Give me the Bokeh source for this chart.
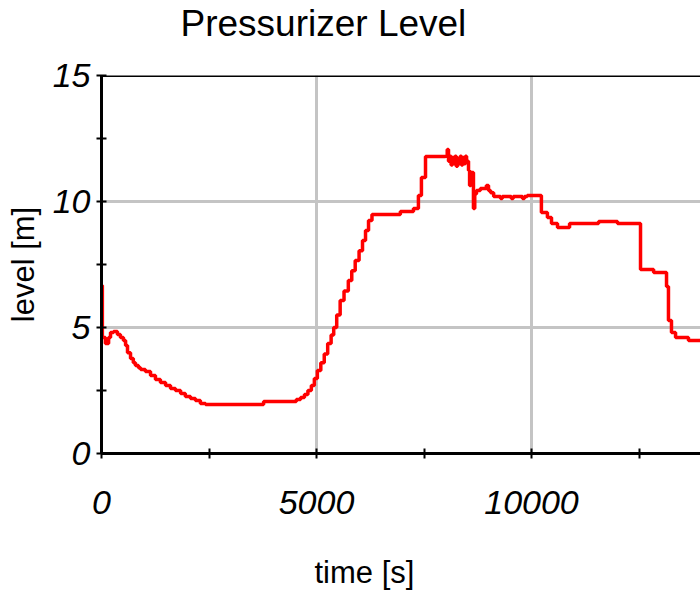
from bokeh.plotting import figure
from bokeh.models import FixedTicker, Span, Range1d, Title
from bokeh.embed import file_html
from bokeh.resources import INLINE

# Pressurizer level history (time in s, level in m), sampled as a staircase
time_s = [
    0, 20, 90, 165, 210, 280, 370, 440, 510, 560, 605, 675, 740, 790, 860, 910,
    1020, 1140, 1255, 1370, 1490, 1605, 1720, 1840, 1950, 2070, 2185, 2300, 2420,
    3770, 4530, 4630, 4720, 4800, 4880, 4950, 5020, 5100, 5180, 5260, 5340, 5400,
    5470, 5550, 5640, 5740, 5820, 5900, 5990, 6070, 6140, 6210, 6290, 6950, 7255,
    7370, 7440, 7535, 8000, 8040, 8070, 8100, 8130, 8160, 8190, 8220, 8250, 8280,
    8310, 8340, 8370, 8400, 8430, 8460, 8490, 8535, 8560, 8590, 8650, 8680, 8720,
    8810, 8950, 9000, 9050, 9120, 9280, 9320, 9530, 9575, 9790, 9835, 9900, 10230,
    10370, 10465, 10605, 10885, 11560, 12000, 12535, 12840, 13140, 13185, 13255,
    13350, 13650, 13930,
]
level_m = [
    6.67, 4.60, 4.37, 4.60, 4.80, 4.84, 4.72, 4.60, 4.48, 4.29, 4.00, 3.77, 3.60,
    3.49, 3.40, 3.33, 3.25, 3.10, 2.94, 2.82, 2.70, 2.58, 2.50, 2.38, 2.26, 2.18,
    2.10, 1.98, 1.94, 2.06, 2.14, 2.22, 2.34, 2.50, 2.70, 2.98, 3.29, 3.60, 3.95,
    4.37, 4.70, 5.00, 5.50, 6.07, 6.45, 6.87, 7.25, 7.66, 8.05, 8.45, 8.85, 9.25,
    9.48, 9.60, 9.72, 10.24, 10.95, 11.79, 11.80, 12.06, 11.60, 11.80, 11.45,
    11.75, 11.50, 11.80, 11.40, 11.70, 11.50, 11.80, 11.45, 11.75, 11.50, 11.80,
    11.60, 11.23, 10.63, 11.15, 9.72, 10.30, 10.44, 10.52, 10.63, 10.44, 10.35,
    10.20, 10.12, 10.20, 10.12, 10.20, 10.12, 10.20, 10.24, 9.56, 9.37, 9.13,
    8.97, 9.13, 9.21, 9.13, 7.30, 7.18, 6.63, 5.28, 4.80, 4.60, 4.48, 4.48,
]

x_major = [0, 5000, 10000]
x_minor = [2500, 7500, 12500]
y_major = [0, 5, 10, 15]
y_minor = [2.5, 7.5, 12.5]

SANS = "Liberation Sans, Arial, sans-serif"

p = figure(
    width=700, height=595,
    output_backend="svg", toolbar_location=None,
    x_range=Range1d(0, 13930), y_range=Range1d(0, 15),
    min_border_left=101, min_border_right=0,
    min_border_top=75, min_border_bottom=142,
    title="Pressurizer Level",
)
p.outline_line_color = None
p.background_fill_color = "white"
p.border_fill_color = "white"

p.title.text_font = SANS
p.title.text_font_size = "37px"
p.title.text_font_style = "normal"
p.title.text_color = "black"
p.title.align = "left"
p.title.offset = 79
p.title.vertical_align = "top"
p.title.standoff = 0
p.title.padding = dict(left=0, right=0, top=0, bottom=30)

# axes
p.xaxis.ticker = FixedTicker(ticks=x_major, minor_ticks=x_minor)
p.yaxis.ticker = FixedTicker(ticks=y_major, minor_ticks=y_minor)
for ax in (p.xaxis, p.yaxis):
    ax.axis_line_width = 3
    ax.axis_line_color = "black"
    ax.major_tick_line_width = 2
    ax.minor_tick_line_width = 2
    ax.major_tick_line_color = "black"
    ax.minor_tick_line_color = "black"
    ax.major_tick_in = 5
    ax.major_tick_out = 5
    ax.minor_tick_in = 5
    ax.minor_tick_out = 5
    ax.major_label_text_font = SANS
    ax.major_label_text_font_style = "italic"
    ax.major_label_text_font_size = "34px"
    ax.major_label_text_color = "black"
    ax.axis_label_text_font = SANS
    ax.axis_label_text_font_style = "normal"
    ax.axis_label_text_font_size = "31px"
    ax.axis_label_text_color = "black"

p.yaxis.axis_label = "level [m]"
p.xaxis.major_label_standoff = 32
p.yaxis.major_label_standoff = 6
p.yaxis.axis_label_standoff = 9
p.yaxis.major_label_orientation = "horizontal"

# x-axis caption as a bottom title so it can sit left of the frame centre
p.add_layout(Title(
    text="time [s]", align="left", offset=213, vertical_align="top", standoff=0,
    padding=dict(left=0, right=0, top=38, bottom=0),
    text_font=SANS, text_font_size="31px", text_font_style="normal", text_color="black",
), "below")

# grid only at labelled values
p.xgrid.ticker = FixedTicker(ticks=[5000, 10000])
p.ygrid.ticker = FixedTicker(ticks=[5, 10])
for g in (p.xgrid, p.ygrid):
    g.grid_line_color = "#c4c4c4"
    g.grid_line_width = 3

# top border of the plot area
p.add_layout(Span(location=15, dimension="width", line_color="black", line_width=3))

p.step(time_s, level_m, mode="after", line_color="#ff0000", line_width=3.5)

open("out.html", "w").write(file_html(p, INLINE))
